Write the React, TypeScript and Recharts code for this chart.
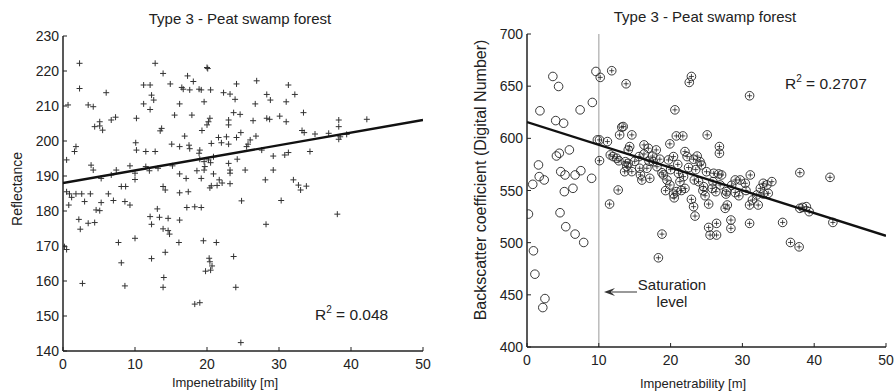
import React from 'react';
import { ScatterChart, Scatter, XAxis, YAxis, ReferenceLine } from 'recharts';

const FONT = '"Liberation Sans", Arial, Helvetica, sans-serif';
const INK = '#222';

// axis ticks
const xTicks = [0, 10, 20, 30, 40, 50];
const leftYTicks = [140, 150, 160, 170, 180, 190, 200, 210, 220, 230];
const rightYTicks = [400, 450, 500, 550, 600, 650, 700];

// left panel: reflectance vs impenetrability
const leftPoints: number[][] = [
  [2.3, 222.2], [12.8, 222.2], [20.0, 221.0], [20.1, 220.7], [13.9, 219.3], [17.3, 218.6], [18.1, 217.0],
  [26.9, 217.2], [11.2, 216.0], [12.1, 216.0], [14.9, 216.3], [16.5, 215.3], [16.7, 214.8], [17.6, 214.6],
  [18.9, 214.8], [19.2, 214.6], [20.5, 214.6], [24.1, 216.3], [22.3, 213.8], [23.2, 213.4], [31.3, 216.0],
  [32.2, 213.3], [2.3, 215.0], [6.0, 213.8], [12.3, 213.1], [12.6, 211.7], [11.2, 210.6], [12.1, 209.0],
  [16.2, 210.6], [19.6, 211.2], [23.9, 211.9], [28.3, 213.3], [28.8, 211.7], [26.7, 210.6], [31.0, 211.2],
  [0.7, 210.3], [3.5, 210.3], [4.2, 209.8], [33.4, 208.1], [15.5, 207.4], [17.9, 207.4], [23.7, 208.1],
  [24.6, 207.6], [30.1, 207.1], [28.3, 206.5], [28.7, 206.2], [5.1, 205.5], [5.1, 204.3], [4.4, 204.1],
  [5.5, 203.1], [6.7, 206.0], [7.3, 206.8], [10.2, 206.5], [20.4, 206.5], [20.2, 205.5], [20.0, 204.6],
  [23.0, 206.0], [23.0, 204.6], [26.4, 205.8], [31.0, 205.5], [38.3, 206.0], [38.3, 204.1], [42.2, 206.2],
  [13.7, 203.6], [13.5, 202.9], [19.3, 203.0], [33.2, 203.0], [33.5, 202.4], [35.0, 202.0], [36.9, 202.2],
  [38.5, 201.2], [39.4, 201.9], [38.3, 200.5], [16.9, 201.4], [24.7, 202.4], [24.1, 201.0], [21.6, 201.0],
  [22.7, 201.2], [26.8, 201.4], [20.6, 199.3], [22.0, 199.5], [23.0, 199.1], [26.0, 200.3], [25.7, 199.1],
  [25.5, 198.4], [0.5, 194.6], [1.8, 198.4], [1.6, 197.0], [10.1, 199.5], [10.2, 197.4], [11.5, 197.0],
  [12.8, 197.0], [15.1, 199.1], [16.2, 198.4], [17.5, 198.8], [17.6, 197.8], [19.0, 197.4], [18.9, 196.5],
  [27.6, 197.4], [29.2, 195.7], [30.8, 196.0], [31.3, 196.7], [34.3, 197.0], [20.9, 195.5], [20.5, 193.8],
  [20.2, 194.6], [19.6, 194.1], [19.6, 191.7], [19.0, 194.8], [19.7, 192.7], [23.0, 193.6], [24.2, 194.8],
  [23.2, 191.7], [23.2, 190.8], [25.3, 191.7], [29.2, 191.7], [3.9, 193.1], [4.2, 191.7], [5.3, 189.3],
  [6.7, 190.3], [7.4, 191.7], [9.3, 192.9], [10.0, 190.8], [10.0, 189.0], [11.5, 192.7], [12.0, 191.5],
  [13.2, 192.2], [15.2, 192.9], [16.2, 190.6], [17.1, 189.3], [18.6, 191.5], [19.2, 189.3], [20.9, 190.6],
  [21.7, 188.9], [28.1, 188.9], [32.0, 188.9], [32.7, 187.4], [33.8, 187.1], [8.1, 187.0], [8.7, 187.0],
  [13.9, 187.0], [14.2, 186.0], [16.2, 185.2], [17.4, 185.5], [20.4, 186.6], [20.6, 187.2], [21.4, 187.3],
  [22.1, 188.0], [23.2, 187.8], [0.5, 185.5], [0.9, 184.9], [1.2, 183.9], [1.8, 184.9], [2.6, 184.9],
  [3.8, 184.9], [3.0, 182.7], [0.8, 181.7], [6.3, 184.9], [5.3, 182.4], [7.0, 183.0], [8.6, 182.7],
  [9.3, 181.7], [4.6, 180.3], [5.1, 180.1], [2.2, 177.6], [2.4, 174.8], [3.5, 176.5], [4.4, 176.7],
  [0.2, 169.8], [0.5, 169.0], [7.7, 171.0], [10.0, 172.2], [8.1, 165.2], [2.7, 159.3], [8.6, 158.6],
  [12.1, 178.4], [12.3, 176.2], [13.1, 180.6], [13.4, 178.2], [14.6, 177.9], [13.9, 174.9], [14.6, 174.4],
  [14.8, 173.4], [16.2, 177.4], [16.1, 171.0], [14.2, 168.2], [12.3, 166.4], [14.0, 161.0], [13.9, 158.2],
  [17.2, 181.0], [18.3, 181.2], [19.2, 181.0], [19.5, 171.5], [21.3, 171.0], [20.3, 166.5], [20.4, 165.5],
  [20.7, 164.3], [20.5, 163.1], [19.8, 162.8], [23.7, 167.0], [24.0, 158.2], [18.3, 153.4], [19.0, 153.8],
  [24.7, 142.4], [24.8, 182.9], [28.2, 176.2], [30.3, 183.0], [38.1, 179.1], [33.0, 186.0],
];
const leftFit = [[0, 188.0], [50, 206.0]];

// right panel: backscatter vs impenetrability
const rightBelowSaturation: number[][] = [
  [3.6, 659.3], [4.4, 649.7], [1.8, 626.4], [7.4, 627.3], [9.1, 634.4], [4.0, 617.0], [5.1, 614.5],
  [5.9, 588.9], [4.5, 585.7], [4.1, 583.1], [1.6, 574.5], [0.8, 555.9], [1.7, 563.3], [2.4, 560.1],
  [4.7, 568.1], [5.3, 564.9], [6.7, 564.9], [7.5, 569.0], [9.0, 561.7], [5.2, 548.9], [6.4, 552.1],
  [9.6, 664.1], [9.8, 598.5], [0.2, 527.4], [4.6, 528.7], [5.4, 515.3], [0.9, 492.2], [1.1, 469.8],
  [2.5, 446.4], [2.2, 437.8], [6.7, 508.2], [7.9, 500.2],
];
const rightAboveSaturation: number[][] = [
  [10.2, 658.4], [11.8, 664.8], [13.8, 652.3], [22.9, 659.3], [22.6, 653.6], [20.6, 627.3], [31.0, 640.8],
  [11.2, 596.9], [10.1, 598.5], [10.1, 578.6], [13.2, 610.7], [13.4, 611.3], [12.9, 603.3], [14.6, 603.3],
  [20.8, 602.3], [21.7, 602.3], [25.1, 603.3], [26.8, 592.1], [26.8, 585.7], [14.3, 592.1], [14.1, 588.9],
  [16.3, 593.7], [16.9, 590.5], [18.0, 588.9], [19.9, 594.7], [22.0, 587.3], [11.6, 584.1], [12.0, 582.5],
  [12.5, 580.9], [13.7, 577.6], [14.1, 576.0], [15.6, 582.5], [16.3, 585.0], [17.6, 577.6], [18.1, 572.8],
  [19.7, 579.3], [20.4, 582.5], [22.3, 582.5], [23.2, 580.0], [23.7, 583.0], [24.1, 577.6], [24.3, 574.5],
  [14.6, 568.1], [15.7, 571.3], [16.7, 571.3], [15.8, 565.0], [13.6, 568.0], [13.9, 573.0], [17.1, 561.7],
  [19.0, 565.0], [19.5, 560.0], [19.9, 555.3], [21.1, 566.5], [21.8, 563.3], [21.3, 558.5], [23.3, 560.1],
  [23.9, 558.5], [24.6, 553.7], [26.0, 566.5], [26.7, 565.9], [27.1, 564.9], [25.9, 558.5], [26.9, 555.3],
  [27.8, 548.9], [29.0, 560.1], [29.7, 560.1], [30.4, 556.9], [31.1, 564.9], [32.9, 556.9], [33.4, 555.3],
  [34.1, 558.5], [38.0, 567.1], [42.2, 562.6], [11.5, 537.0], [12.7, 550.5], [18.8, 508.2], [18.3, 485.5],
  [19.3, 549.9], [20.4, 546.6], [20.8, 548.9], [22.9, 541.5], [23.2, 534.5], [23.4, 525.5], [24.5, 549.9],
  [25.3, 537.0], [25.3, 514.6], [25.5, 507.3], [26.4, 518.5], [26.4, 507.3], [26.3, 548.9], [27.7, 546.6],
  [27.6, 532.9], [27.9, 536.1], [28.4, 521.7], [28.4, 513.7], [29.0, 548.0], [31.0, 536.1], [31.4, 540.9],
  [32.2, 536.1], [31.0, 518.5], [32.0, 545.7], [32.9, 546.7], [33.6, 547.3], [38.0, 532.9], [38.4, 533.8],
  [38.9, 534.5], [39.3, 529.7], [35.6, 519.4], [36.7, 500.2], [37.9, 496.0], [42.6, 519.4],
  [17.5, 583.0], [18.5, 580.0], [21.0, 575.0], [22.5, 572.0], [23.5, 570.0], [25.0, 568.0], [20.0, 570.0],
  [18.8, 567.0], [22.0, 552.0], [24.8, 545.0], [21.5, 550.0], [25.8, 552.0], [28.5, 555.0], [30.5, 550.0],
  [29.5, 545.0], [32.5, 552.0], [17.0, 578.0], [15.0, 578.0], [12.8, 578.5], [16.0, 560.0], [20.5, 543.0],
];
const rightFit = [[0, 615.5], [50, 506.6]];
const saturationLevel = 10;

const toXY = (pts: number[][]) => pts.map(([x, y]) => ({ x, y }));

function BottomTick(props: any) {
  const { x, y, payload } = props;
  return (
    <g>
      <line x1={x} x2={x} y1={y} y2={y - 4} stroke={INK} />
      <text x={x} y={y + 18} textAnchor="middle" fontSize={14} fontFamily={FONT} fill={INK}>
        {payload.value}
      </text>
    </g>
  );
}

function TopTick(props: any) {
  const { x, y } = props;
  return <line x1={x} x2={x} y1={y} y2={y + 4} stroke={INK} />;
}

function LeftTick(props: any) {
  const { x, y, payload } = props;
  return (
    <g>
      <line x1={x} x2={x + 4} y1={y} y2={y} stroke={INK} />
      <text x={x - 4} y={y + 5} textAnchor="end" fontSize={14} fontFamily={FONT} fill={INK}>
        {payload.value}
      </text>
    </g>
  );
}

function RightTick(props: any) {
  const { x, y } = props;
  return <line x1={x} x2={x - 4} y1={y} y2={y} stroke={INK} />;
}

function PlusMark(props: any) {
  const { cx, cy } = props;
  return (
    <path d={`M${cx - 3},${cy}h6M${cx},${cy - 3}v6`} stroke="#333" strokeWidth={1} fill="none" />
  );
}

function RingMark(props: any) {
  const { cx, cy } = props;
  return <circle cx={cx} cy={cy} r={4.3} fill="none" stroke={INK} strokeWidth={0.9} />;
}

function RingPlusMark(props: any) {
  const { cx, cy } = props;
  return (
    <g>
      <circle cx={cx} cy={cy} r={4.3} fill="none" stroke={INK} strokeWidth={0.9} />
      <path d={`M${cx - 2.5},${cy}h5M${cx},${cy - 2.5}v5`} stroke={INK} strokeWidth={0.8} />
    </g>
  );
}

const NoMark = () => <g />;

function Frame(yDomain: number[], yTicks: number[]) {
  const axisLine = { stroke: INK, strokeWidth: 1.5 };
  return [
    <XAxis key="xb" type="number" dataKey="x" domain={[0, 50]} ticks={xTicks} height={30}
      tickSize={0} tickMargin={0} tickLine={false} axisLine={axisLine} tick={<BottomTick />} allowDataOverflow />,
    <XAxis key="xt" xAxisId="top" orientation="top" type="number" domain={[0, 50]} ticks={xTicks} height={0}
      tickSize={0} tickMargin={0} tickLine={false} axisLine={axisLine} tick={<TopTick />} allowDataOverflow />,
    <YAxis key="yl" type="number" dataKey="y" domain={yDomain} ticks={yTicks} width={40}
      tickSize={0} tickMargin={0} tickLine={false} axisLine={axisLine} tick={<LeftTick />} allowDataOverflow />,
    <YAxis key="yr" yAxisId="right" orientation="right" type="number" domain={yDomain} ticks={yTicks} width={0}
      tickSize={0} tickMargin={0} tickLine={false} axisLine={axisLine} tick={<RightTick />} allowDataOverflow />,
  ];
}

export default function App() {
  return (
    <div style={{ position: 'absolute', left: 0, top: 0, width: 894, height: 392, background: '#fff' }}>
      <div style={{ position: 'absolute', left: 0, top: 0 }}>
        <ScatterChart width={447} height={392} margin={{ top: 36, right: 24, bottom: 11, left: 23 }}>
          {Frame([140, 230], leftYTicks)}
          <Scatter data={toXY(leftPoints)} shape={<PlusMark />} isAnimationActive={false} />
          <Scatter data={toXY(leftFit)} shape={<NoMark />} line={{ stroke: '#111', strokeWidth: 2.3 }}
            isAnimationActive={false} />
        </ScatterChart>
      </div>
      <div style={{ position: 'absolute', left: 447, top: 0 }}>
        <ScatterChart width={447} height={392} margin={{ top: 34, right: 8, bottom: 15, left: 40 }}>
          {Frame([400, 700], rightYTicks)}
          <ReferenceLine x={saturationLevel} stroke="#bbb" strokeWidth={1.5} />
          <Scatter data={toXY(rightBelowSaturation)} shape={<RingMark />} isAnimationActive={false} />
          <Scatter data={toXY(rightAboveSaturation)} shape={<RingPlusMark />} isAnimationActive={false} />
          <Scatter data={toXY(rightFit)} shape={<NoMark />} line={{ stroke: '#111', strokeWidth: 2.3 }}
            isAnimationActive={false} />
        </ScatterChart>
      </div>
      <svg width={894} height={392} style={{ position: 'absolute', left: 0, top: 0, pointerEvents: 'none' }}
        fontFamily={FONT} fill={INK}>
        <text x={240} y={24} textAnchor="middle" fontSize={15}>Type 3 - Peat swamp forest</text>
        <text x={705} y={22} textAnchor="middle" fontSize={15}>Type 3 - Peat swamp forest</text>
        <text x={225} y={387} textAnchor="middle" fontSize={13}>Impenetrability [m]</text>
        <text x={693} y={388} textAnchor="middle" fontSize={13}>Impenetrability [m]</text>
        <text transform="translate(22,189) rotate(-90)" textAnchor="middle" fontSize={14}>Reflectance</text>
        <text transform="translate(486,180) rotate(-90)" textAnchor="middle" fontSize={16}>
          Backscatter coefficient (Digital Number)
        </text>
        <text x={315} y={320} fontSize={15.5}>
          <tspan>R</tspan>
          <tspan dy={-7} fontSize={10}>2</tspan>
          <tspan dy={7}> = 0.048</tspan>
        </text>
        <text x={785} y={89} fontSize={15.5}>
          <tspan>R</tspan>
          <tspan dy={-7} fontSize={10}>2</tspan>
          <tspan dy={7}> = 0.2707</tspan>
        </text>
        <text x={672} y={290} textAnchor="middle" fontSize={15}>Saturation</text>
        <text x={672} y={307} textAnchor="middle" fontSize={15}>level</text>
        <line x1={612} x2={637} y1={292} y2={292} stroke="#555" strokeWidth={1.2} />
        <path d="M604,292 L615,288 L611,292 L615,296 Z" fill="#333" />
      </svg>
    </div>
  );
}
